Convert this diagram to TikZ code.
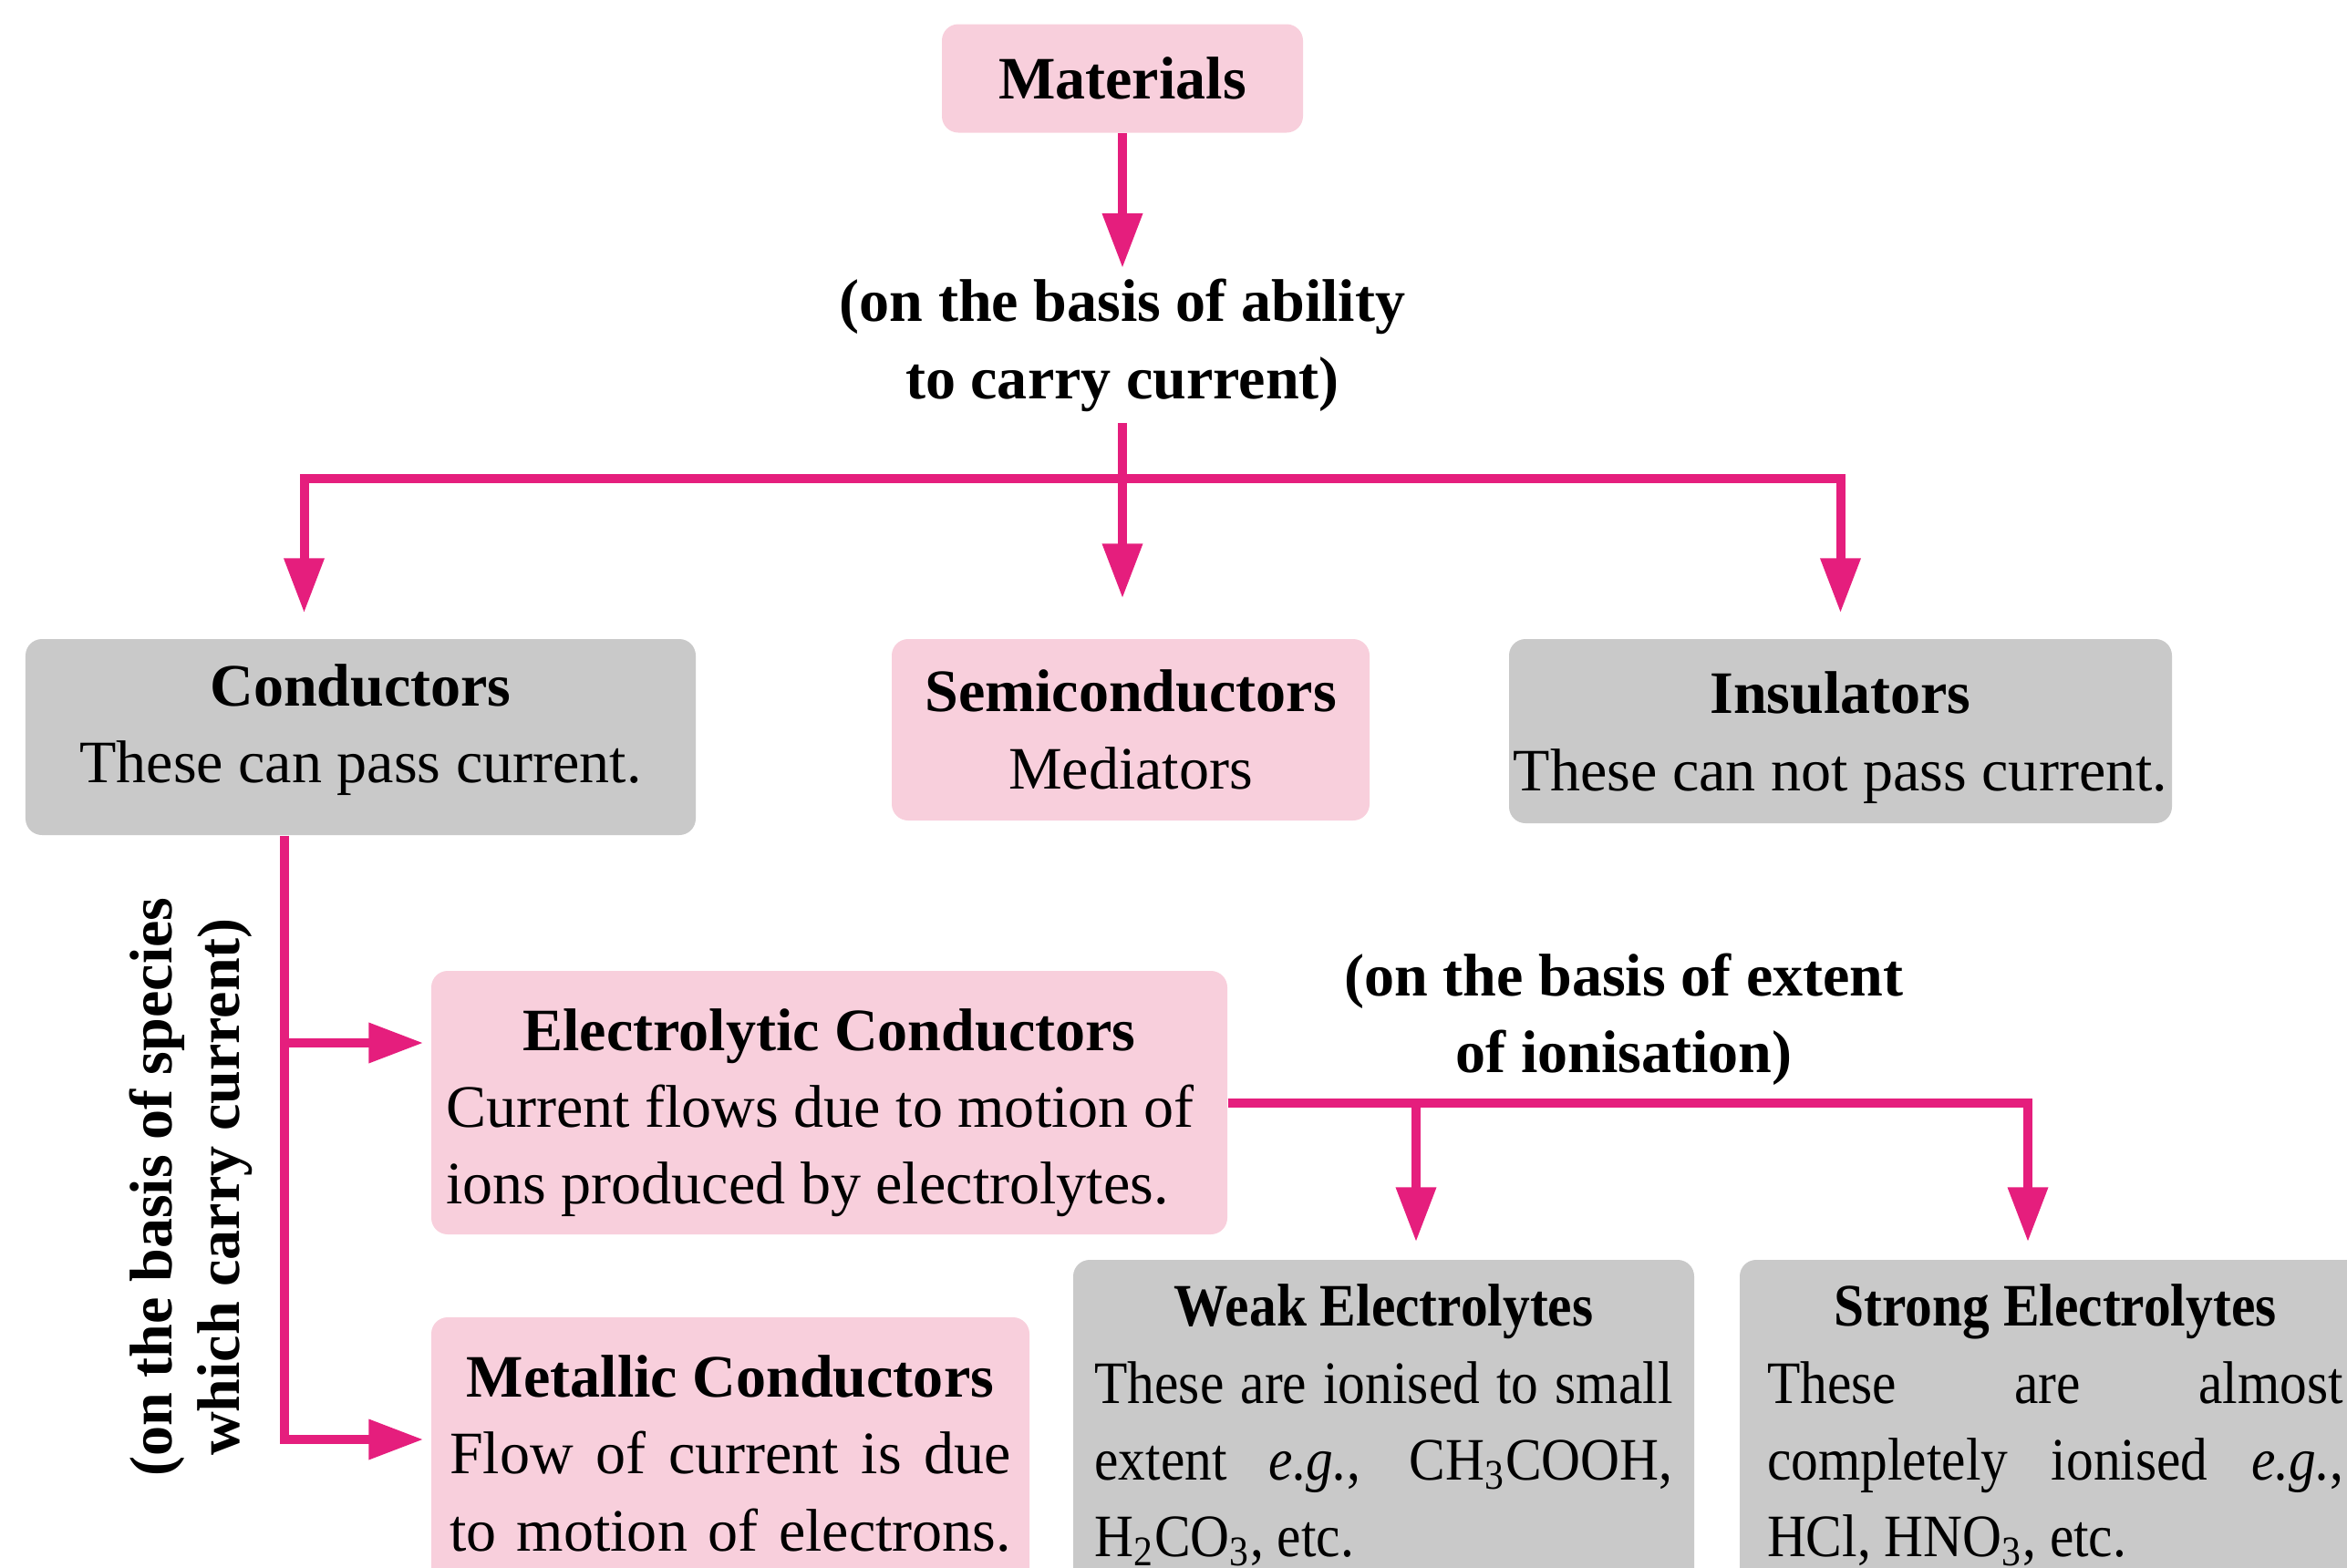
\documentclass[tikz,border=0pt]{standalone}
\usepackage{fontspec}
\setmainfont{Liberation Serif}
\newfontfamily\condfont[FakeStretch=0.9]{Liberation Serif}
\usepackage{tikz}
\usetikzlibrary{arrows.meta}
\definecolor{arrowpink}{RGB}{229,30,125}
\definecolor{boxpink}{RGB}{248,207,220}
\definecolor{boxgrey}{RGB}{201,201,201}
\tikzset{
    box/.style={rounded corners=0.18cm, align=center, inner sep=0pt, font=\fontsize{18.8}{24}\selectfont},
    pinkbox/.style={box, fill=boxpink},
    greybox/.style={box, fill=boxgrey},
    basis/.style={align=center, font=\fontsize{18.8}{24}\selectfont\bfseries},
    pinkline/.style={draw=arrowpink, line width=0.1cm},
    pinkarrow/.style={pinkline, -{Triangle[length=0.6cm,width=0.42cm]}},
}
\newcommand{\jline}[2]{\makebox[#1][s]{#2}}
\newcommand{\lline}[2]{\makebox[#1][l]{#2}}

\begin{document}
\begin{tikzpicture}
    \useasboundingbox (0,0) rectangle (25.74,-17.2);
    \clip (0,0) rectangle (25.74,-17.2);

    \node[pinkbox, minimum width=3.96cm, minimum height=1.19cm, font=\fontsize{18.8}{24}\selectfont\bfseries] (mat) at (12.31,-0.86) {Materials};
    \node[basis] (ability) at (12.31,-3.79) {(on the basis of ability\\to carry current)};

    \node[greybox, minimum width=7.35cm, minimum height=2.15cm] (cond) at (3.955,-8.085) {\textbf{Conductors}\\These can pass current.\rule[-0.3cm]{0pt}{0pt}};
    \node[pinkbox, minimum width=5.24cm, minimum height=1.99cm] (semi) at (12.40,-8.005) {\textbf{Semiconductors}\\Mediators};
    \node[greybox, minimum width=7.27cm, minimum height=2.02cm] (ins) at (20.185,-8.02) {\rule{0pt}{0.6cm}\textbf{Insulators}\\These can not pass current.};

    \node[basis, rotate=90, font=\fontsize{18.8}{21}\selectfont\bfseries] (species) at (2.09,-13.02) {(on the basis of species\\which carry current)};

    \node[pinkbox, minimum width=8.73cm, minimum height=2.89cm] (elec) at (9.095,-12.095) {\rule{0pt}{0.68cm}\textbf{Electrolytic Conductors}\\\lline{8.41cm}{Current flows due to motion of}\\\lline{8.41cm}{ions produced by electrolytes.}};
    \node[pinkbox, minimum width=6.56cm, minimum height=2.99cm] (met) at (8.01,-15.945) {\textbf{Metallic Conductors}\\\jline{6.16cm}{Flow of current is due}\\\jline{6.16cm}{to motion of electrons.}};

    \node[basis] (extent) at (17.81,-11.18) {(on the basis of extent\\of ionisation)};

    \node[greybox, minimum width=6.81cm, minimum height=3.63cm, font=\condfont\fontsize{18.8}{24}\selectfont] (weak) at (15.175,-15.635) {\textbf{Weak Electrolytes}\\\jline{6.34cm}{These are ionised to small}\\\jline{6.34cm}{extent \textit{e.g.}, CH\textsubscript{3}COOH,}\\\lline{6.34cm}{H\textsubscript{2}CO\textsubscript{3}, etc.}};
    \node[greybox, minimum width=6.92cm, minimum height=3.63cm, font=\condfont\fontsize{18.8}{24}\selectfont] (strong) at (22.54,-15.635) {\textbf{Strong Electrolytes}\\\jline{6.32cm}{These are almost}\\\jline{6.32cm}{completely ionised \textit{e.g.},}\\\lline{6.32cm}{HCl, HNO\textsubscript{3}, etc.}};

    \coordinate (hub) at (12.31,-5.25);
    \coordinate (spine) at ([xshift=-0.835cm]cond.south);
    \coordinate (elin) at ([yshift=0.655cm]elec.west);
    \coordinate (metin) at ([yshift=0.155cm]met.west);

    \draw[pinkarrow] (mat.south) -- (ability.north);
    \draw[pinkline] (ability.south) -- (hub);
    \draw[pinkarrow, shorten >=0.44cm] (hub) -- (hub |- semi.north);
    \draw[pinkarrow, shorten >=0.28cm] (hub) -| ([xshift=-0.62cm]cond.north);
    \draw[pinkarrow, shorten >=0.28cm] (hub) -| (ins.north);

    \draw[pinkarrow, shorten >=0.08cm] (spine) |- (metin);
    \draw[pinkarrow, shorten >=0.08cm] (spine |- elin) -- (elin);

    \draw[pinkarrow, shorten >=0.19cm] (elec.east) -| ([xshift=0.355cm]weak.north);
    \draw[pinkarrow, shorten >=0.19cm] (elec.east) -| ([xshift=-0.30cm]strong.north);
\end{tikzpicture}
\end{document}
